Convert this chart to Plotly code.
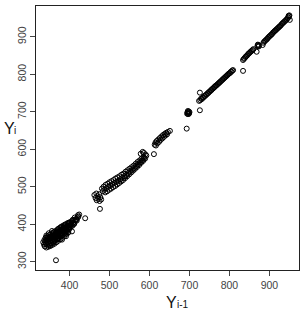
import plotly.graph_objects as go

# Cluster values: previous value Y(i-1) and current value Y(i)
c1_prev = [334,336,337,338,339,340,341,342,343,344,345,346,347,348,349,350,351,352,353,354,355,356,357,358,359,360,361,362,363,364,365,366,367,368,369,370,371,372,373,374,375,376,377,378,379,380,381,382,383,384,385,386,387,388,389,390,391,392,393,394,395,396,397,398,399,400,402,404,405,407,409,410,412,414,416,418,420,422,424,421,
           345,350,355,360,365,370,375,380,385,390,395,342,348,352,358,362,368,372,378,382,388,392,398,403,408,413,340,346,351,356,361,366,371,376,381,386,391,396,401,406,411,417,
           344,349,354,359,364,369,374,379,384,389,394,399,404,409,356,363,370,377,384,391,398]
c1_curr = [352,346,358,341,352,364,347,338,356,345,368,351,340,360,347,372,355,342,364,350,376,358,345,368,353,378,362,348,371,356,382,365,352,374,360,386,368,356,378,364,390,372,360,382,368,394,376,364,386,372,397,380,369,390,377,400,384,374,394,382,403,388,379,397,387,405,392,400,408,396,404,411,402,410,414,410,418,420,426,424,
           360,362,365,370,373,377,381,385,389,392,396,370,376,366,372,380,380,388,392,376,398,386,404,398,412,418,356,363,344,382,354,374,362,370,359,394,368,377,396,381,401,412,
           364,366,369,363,367,381,369,374,379,384,388,393,405,399,349,359,364,385,392,387,402]

c2_prev = [462,465,467,468,470,472,474,475,477,479,
           481,483,485,487,489,490,492,494,495,497,499,500,502,504,505,507,509,510,512,514,515,517,519,520,522,524,525,527,529,530,532,534,535,537,539,540,542,544,545,547,549,550,552,554,555,557,559,560,562,564,565,567,569,570,572,574,575,577,579,580,582,584,585,587,589,590,592,583,578,586]
c2_curr = [478,470,482,464,475,468,480,462,472,466,
           495,488,500,492,485,505,496,488,508,500,492,512,503,495,515,507,499,518,510,502,522,513,506,525,516,510,528,520,514,532,524,518,535,528,523,540,532,528,544,537,533,548,542,538,552,546,543,556,551,548,561,556,553,566,561,558,570,566,564,575,571,569,580,577,575,586,583,593,588,590]

c3_prev = [613,615,616,618,620,622,624,626,628,630,632,634,636,638,640,642,644,646]
c3_curr = [612,618,610,622,616,626,620,630,625,634,629,638,633,641,637,644,640,646]

c4_prev = [694,695,696,697,698,699,700,696,698]
c4_curr = [695,699,694,698,701,696,699,702,694]

c5_prev = [724,727,729,731,733,735,737,739,741,743,745,747,749,751,753,755,757,759,761,763,765,767,769,771,773,775,777,779,781,783,785,787,789,791,793,795,797,799,801,803,805,807,809]
c5_curr = [729,731,735,734,738,738,742,742,745,746,749,750,753,754,757,758,761,762,765,766,769,770,772,774,776,778,780,782,784,786,788,790,792,794,796,798,800,802,803,806,807,810,811]

c6_prev = [834,836,838,840,842,844,846,848,850,852,854,856,858,860]
c6_curr = [838,841,843,846,848,850,853,855,857,859,861,863,865,867]

c7_prev = [870,872,874,871,873,885,887,889,891,893,895,897,899,901,903,905,907,909,911,913,915,917,919,921,923,925,927,929,931,933,935,937,939,941,943,945,947,949,950,948]
c7_curr = [875,878,876,879,874,884,887,889,891,893,895,898,900,902,904,906,908,911,913,915,917,919,921,923,925,927,929,931,934,936,938,940,942,944,946,949,951,954,957,956]

out_prev = [366,439,476,611,651,693,726,726,834,868,883,951]
out_curr = [304,416,441,587,649,655,704,751,809,860,878,945]

x_ticks = [400, 500, 600, 700, 800, 900]
y_ticks = [300, 400, 500, 600, 700, 800, 900]

xs = c1_prev + c2_prev + c3_prev + c4_prev + c5_prev + c6_prev + c7_prev + out_prev
ys = c1_curr + c2_curr + c3_curr + c4_curr + c5_curr + c6_curr + c7_curr + out_curr

W, H = 305, 315
l, r, t, b = 36, 6, 6, 45
pw, ph = W - l - r, H - t - b

def px_to_paper(px, py):
    return (px - l) / pw, 1 - (py - t) / ph

fig = go.Figure(go.Scatter(
    x=xs, y=ys, mode="markers",
    marker=dict(symbol="circle-open", size=5, color="black", line=dict(width=1, color="black")),
    hoverinfo="skip",
))

axis_common = dict(
    showgrid=False, zeroline=False, showline=True, mirror=True,
    linecolor="#222", linewidth=1, ticks="outside", ticklen=5, tickcolor="#444",
    tickfont=dict(family="Liberation Sans, Arial", size=10.5, color="#444"),
)
fig.update_xaxes(range=[316, 974], tickvals=x_ticks, **axis_common)
fig.update_yaxes(range=[278, 982], tickvals=y_ticks, tickangle=-90, **axis_common)

FONT = "Liberation Sans, Arial"
def label(text, px, py, size, xanchor="center"):
    xp, yp = px_to_paper(px, py)
    return dict(text=text, x=xp, y=yp, xref="paper", yref="paper", showarrow=False,
                xanchor=xanchor, yanchor="bottom",
                font=dict(family=FONT, size=size, color="#111"))

fig.update_layout(
    width=W, height=H,
    margin=dict(l=l, r=r, t=t, b=b, autoexpand=False),
    paper_bgcolor="white", plot_bgcolor="white",
    showlegend=False,
    annotations=[
        label("Y", 2, 139, 16, xanchor="left"),
        label("i", 12, 138, 10, xanchor="left"),
        label("Y", 164, 313, 16, xanchor="left"),
        label("i-1", 175, 312, 10, xanchor="left"),
    ],
)

fig.write_html("out.html", config={"displayModeBar": False},
               post_script="document.body.style.margin='0';document.body.style.overflow='hidden';")
